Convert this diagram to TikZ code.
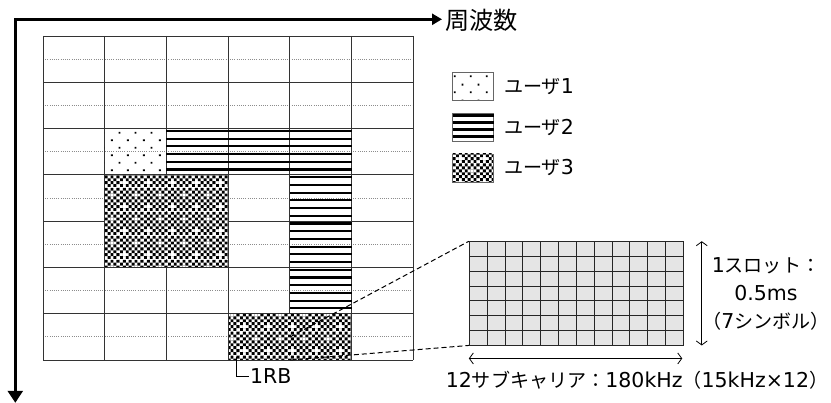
\documentclass[tikz,border=0pt]{standalone}
\usepackage{fontspec}
\setmainfont{DejaVu Sans}
\newfontfamily\cjk[Scale=0.93]{Noto Sans CJK JP}
\usetikzlibrary{arrows.meta,patterns,positioning}

% user 1: staggered dots
\pgfdeclarepatternformonly{rbdots}{\pgfqpoint{0pt}{0pt}}{\pgfqpoint{15.6pt}{15.4pt}}{\pgfqpoint{15.6pt}{15.4pt}}{%
  \pgfpathrectangle{\pgfqpoint{2pt}{2pt}}{\pgfqpoint{1.8pt}{1.8pt}}%
  \pgfpathrectangle{\pgfqpoint{9.8pt}{9.7pt}}{\pgfqpoint{1.8pt}{1.8pt}}%
  \pgfusepath{fill}}
% user 3: checker with white crosses
\pgfdeclarepatterninherentlycolored{rbcheck}{\pgfpointorigin}{\pgfqpoint{24pt}{24pt}}{\pgfqpoint{24pt}{24pt}}{%
  \pgfsetfillcolor{white}%
  \pgfpathrectangle{\pgfpointorigin}{\pgfqpoint{24pt}{24pt}}\pgfusepath{fill}%
  \pgfsetfillcolor{black}%
  \foreach \i in {0,...,7}{\foreach \j in {0,...,7}{%
    \pgfmathtruncatemacro\cellsum{\i+\j}%
    \ifodd\cellsum\else
      \pgfpathrectangle{\pgfpoint{3pt*\i}{3pt*\j}}{\pgfqpoint{3pt}{3pt}}\pgfusepath{fill}%
    \fi}}%
  \pgfsetfillcolor{white}%
  \foreach \i/\j in {1/1,5/5}{%
    \pgfpathrectangle{\pgfpoint{3pt*\i}{3pt*\j}}{\pgfqpoint{3pt}{3pt}}\pgfusepath{fill}}}

\begin{document}
\begin{tikzpicture}[x=1pt,y=-1pt,
    txt/.style={font=\fontsize{20.5}{28}\selectfont, inner sep=1pt},
    axis/.style={line width=2.6pt},
    gridline/.style={draw=black!80, line width=0.9pt},
    midline/.style={draw=black!45, line width=0.8pt, dash pattern=on 1pt off 1.2pt},
    stripe/.style={line width=2.2pt},
    legkey/.style={draw=black!60, line width=0.9pt, minimum width=41pt, minimum height=28pt, inner sep=0pt},
    slotline/.style={draw=black!85, line width=0.9pt},
    zoomline/.style={line width=1pt, dash pattern=on 5pt off 3pt},
    span/.style={line width=0.8pt, {Straight Barb[length=4pt,width=11pt]}-{Straight Barb[length=4pt,width=11pt]}}]
  \useasboundingbox (0,0) rectangle (831,403);

  % axes
  \coordinate (origin) at (15.3,19.3);
  \coordinate (fend) at (442,19.3);
  \coordinate (tend) at (15.3,402.8);
  \draw[axis, {Triangle[length=10pt,width=11pt]}-{Triangle[length=12pt,width=15pt]}] (fend) -- (origin) -- (tend);
  \node[txt, anchor=west, font=\fontsize{26}{30}\selectfont\cjk] (freqlbl) at (444,20) {周波数};

  % resource grid 6 x 7
  \foreach \r in {0,...,6}
    \draw[midline] (43,{59.14+\r*46.29}) -- (413,{59.14+\r*46.29});
  \foreach \c in {0,...,6}
    \draw[gridline] ({43+\c*61.67},36) -- ({43+\c*61.67},360);
  \foreach \r in {0,...,7}
    \draw[gridline] (43,{36+\r*46.29}) -- (413,{36+\r*46.29});

  % user 1
  \fill[pattern=rbdots] (104.67,128.58) rectangle (166.34,174.87);
  % user 2
  \foreach \k in {0,...,5}
    \draw[stripe] (166.34,{130.9+\k*7.715}) -- (351.68,{130.9+\k*7.715});
  \foreach \k in {0,...,17}
    \draw[stripe] (290.01,{177.2+\k*7.715}) -- (351.68,{177.2+\k*7.715});
  % user 3
  \filldraw[gridline, pattern=rbcheck] (104.67,174.87) rectangle (228.34,267.45);
  \filldraw[gridline, pattern=rbcheck] (228.34,313.74) rectangle (351.68,360);

  % 1RB
  \coordinate (rbtick) at (236.7,357);
  \node[txt, anchor=west] (rblbl) at (249,376) {1RB};
  \draw[line width=0.9pt] (rbtick) |- (rblbl.west);

  % legend
  \node[legkey, pattern=rbdots] (key1) at (473,86.7) {};
  \node[legkey] (key2) at (473,127.8) {};
  \node[legkey, pattern=rbcheck] (key3) at (473,168) {};
  \foreach \k in {0,...,3}
    \draw[stripe] (452.5,{115.6+\k*7}) -- (493.5,{115.6+\k*7});
  \node[txt, right=9pt of key1] (leg1) {{\cjk ユーザ}1};
  \node[txt, right=9pt of key2] (leg2) {{\cjk ユーザ}2};
  \node[txt, right=9pt of key3] (leg3) {{\cjk ユーザ}3};

  % one RB: 12 subcarriers x 7 symbols
  \node[slotline, fill=black!10, minimum width=214pt, minimum height=103.3pt, inner sep=0pt] (slot) at (576.3,293.35) {};
  \foreach \c in {1,...,11}
    \draw[slotline] ({469.3+\c*17.833},241.7) -- ({469.3+\c*17.833},345);
  \foreach \r in {1,...,6}
    \draw[slotline] (469.3,{241.7+\r*14.757}) -- (683.3,{241.7+\r*14.757});
  \coordinate (zA) at (290,337);
  \coordinate (zB) at (290,360);
  \draw[zoomline] (zA) -- (slot.north west);
  \draw[zoomline] (zB) -- (slot.south west);

  \draw[span] ([yshift=-13pt]slot.south west) -- ([xshift=-1.5pt,yshift=-13pt]slot.south east);
  \draw[span] ([xshift=18pt]slot.north east) -- ([xshift=18pt]slot.south east);
  \node[txt, align=center] (slotlbl) at (766,294) {1{\cjk スロット：}\\0.5ms\\{\cjk （}7{\cjk シンボル）}};
  \node[txt] (sclbl) at (637,380) {12{\cjk サブキャリア：}180kHz{\cjk （}15kHz×12{\cjk ）}};
\end{tikzpicture}
\end{document}
